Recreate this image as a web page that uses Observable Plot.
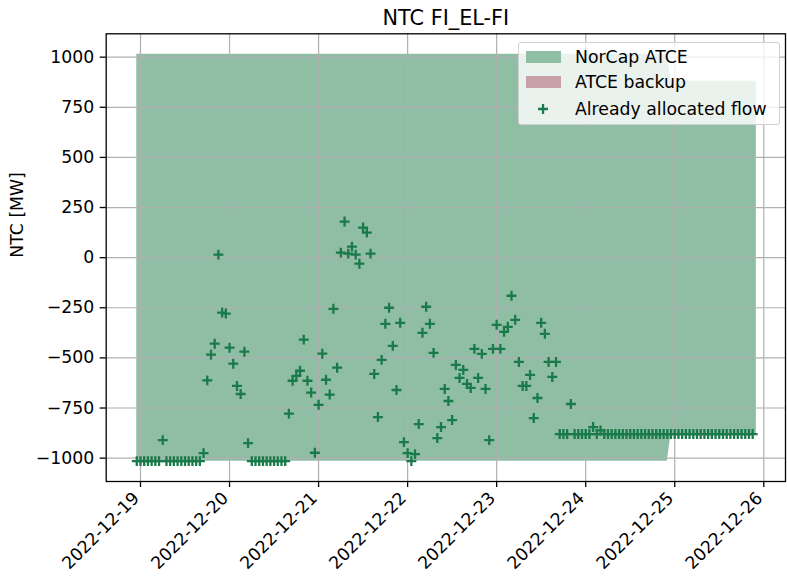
<!DOCTYPE html>
<html><head><meta charset="utf-8">
<script src="https://cdn.jsdelivr.net/npm/d3@7"></script>
<script src="https://cdn.jsdelivr.net/npm/@observablehq/plot@0.6"></script>
<style>
body{margin:0;background:#fff;}
#wrap{position:relative;width:787px;height:578px;font-family:"DejaVu Sans",sans-serif;}
#legend{position:absolute;left:518px;top:42px;width:262px;height:83px;background:rgba(255,255,255,0.8);border:1px solid #d0d0d0;border-radius:3px;box-sizing:border-box;font-size:17.3px;color:#000;}
#legend .row{position:absolute;left:0;height:22px;line-height:22px;width:100%;}
#legend .patch{position:absolute;left:7px;top:5px;width:35px;height:12px;}
#legend .lab{position:absolute;left:56px;top:0;white-space:nowrap;}
#legend svg{position:absolute;left:16px;top:3px;}
</style></head><body><div id="wrap"></div>
<script>
// ---- data ----
const title = "NTC FI_EL-FI";
const yLabel = "NTC [MW]";
const seriesNames = ["NorCap ATCE", "ATCE backup", "Already allocated flow"];

// NorCap ATCE band (breakpoints, hourly data, linear between)
const bandTimes = ["2022-12-18T23:00Z", "2022-12-24T22:00Z", "2022-12-24T23:00Z", "2022-12-25T22:00Z"];
const bandUpper = [1015, 1015, 880, 880];
const bandLower = [-1015, -1015, -880, -880];

// Already allocated flow, hourly from 2022-12-18 23:00 UTC
const flowStart = "2022-12-18T23:00Z";
const flow = [
  -1015, -1015, -1015, -1015, -1015, -1015, -1015, -910,
  -1015, -1015, -1015, -1015, -1015, -1015, -1015, -1015, -1015, -1015,
  -975, -612, -484, -429, 15, -274, -279,
  -449, -529, -640, -680, -469, -925,
  -1015, -1015, -1015, -1015, -1015, -1015, -1015, -1015, -1015, -1015,
  -778, -614, -590, -564, -409, -614, -673, -973,
  -734, -479, -609, -683, -255, -549, 25, 180,
  20, 55, 15, -30, 150, 125, 20, -580,
  -795, -510, -330, -250, -440, -660, -325, -920,
  -975, -1015, -980, -830, -375, -245, -330, -475,
  -900, -845, -655, -715, -810, -535, -600, -560,
  -630, -650, -455, -600, -480, -655, -910, -455,
  -335, -455, -370, -345, -190, -310, -520, -640,
  -640, -585, -800, -700, -325, -380, -520, -595,
  -520, -880, -880, -880, -730, -880, -880, -880,
  -880, -880, -845, -880, -862, -880, -880, -880,
  -880, -880, -880, -880, -880, -880, -880, -880,
  -880, -880, -880, -880, -880, -880, -880, -880,
  -880, -880, -880, -880, -880, -880, -880, -880,
  -880, -880, -880, -880, -880, -880, -880, -880,
  -880, -880, -880, -880, -880, -880
];

const xTickLabels = ["2022-12-19","2022-12-20","2022-12-21","2022-12-22","2022-12-23","2022-12-24","2022-12-25","2022-12-26"];
const yTickValues = [-1000, -750, -500, -250, 0, 250, 500, 750, 1000];

// ---- build tables ----
const HOUR = 3600000, DAY = 86400000;
const t0 = Date.parse(flowStart);
const flowData = flow.map((v, i) => ({t: new Date(t0 + i * HOUR), v}));
const bandData = bandTimes.map((s, i) => ({t: new Date(s), hi: bandUpper[i], lo: bandLower[i]}));
const xTicks = xTickLabels.map(s => new Date(s + "T00:00Z"));
const base = Date.parse("2022-12-19T00:00Z");
const fmtY = d3.format("d");
const fmtX = d3.utcFormat("%Y-%m-%d");

const green = "#1a7a4a";
const fillGreen = "#8fbea5";
const pink = "#c9a1a9";
const FS = 17.3;

const plot = Plot.plot({
  width: 787, height: 578,
  marginLeft: 105.7, marginRight: 2, marginTop: 33.3, marginBottom: 97,
  style: {fontFamily: "DejaVu Sans", fontSize: FS + "px", color: "black", background: "white", overflow: "visible"},
  x: {type: "utc", domain: [new Date(base - 0.3852 * DAY), new Date(base + 7.2439 * DAY)]},
  y: {domain: [-1116.5, 1116.5]},
  marks: [
    Plot.areaY(bandData, {x: "t", y1: "lo", y2: "hi", fill: fillGreen}),
    Plot.gridX(xTicks, {stroke: "#b0b0b0", strokeOpacity: 1, strokeWidth: 1.2}),
    Plot.gridY(yTickValues, {stroke: "#b0b0b0", strokeOpacity: 1, strokeWidth: 1.2}),
    Plot.dot(flowData, {x: "t", y: "v", symbol: "plus", r: 3.3, stroke: green, strokeWidth: 2.3, fill: "none"}),
    Plot.frame({stroke: "black", strokeWidth: 1.3}),
    Plot.axisY(yTickValues, {tickSize: 6, tickPadding: 6, tickFormat: fmtY, fontSize: FS, label: null, strokeWidth: 1.3}),
    Plot.axisX(xTicks, {tickSize: 6, tickFormat: () => "", label: null, strokeWidth: 1.3}),
    Plot.text(xTicks, {x: d => d, text: d => fmtX(d), frameAnchor: "bottom", rotate: -45, textAnchor: "end", lineAnchor: "top", dx: -9, dy: 9, fontSize: FS}),
    Plot.text([title], {frameAnchor: "top", dy: -24, fontSize: 20.8}),
    Plot.text([yLabel], {frameAnchor: "left", dx: -89, rotate: -90, fontSize: FS})
  ]
});

const wrap = document.getElementById("wrap");
wrap.appendChild(plot);

// legend
const leg = document.createElement("div");
leg.id = "legend";
const rowsY = [3, 28, 55];
seriesNames.forEach((name, i) => {
  const row = document.createElement("div");
  row.className = "row";
  row.style.top = rowsY[i] + "px";
  if (i < 2) {
    const p = document.createElement("div");
    p.className = "patch";
    p.style.background = i === 0 ? fillGreen : pink;
    row.appendChild(p);
  } else {
    row.innerHTML = `<svg width="16" height="16" viewBox="-8 -8 16 16"><path d="M-5,0H5M0,-5V5" stroke="${green}" stroke-width="2.3" fill="none"/></svg>`;
  }
  const l = document.createElement("div");
  l.className = "lab";
  l.textContent = name;
  row.appendChild(l);
  leg.appendChild(row);
});
wrap.appendChild(leg);
</script></body></html>
